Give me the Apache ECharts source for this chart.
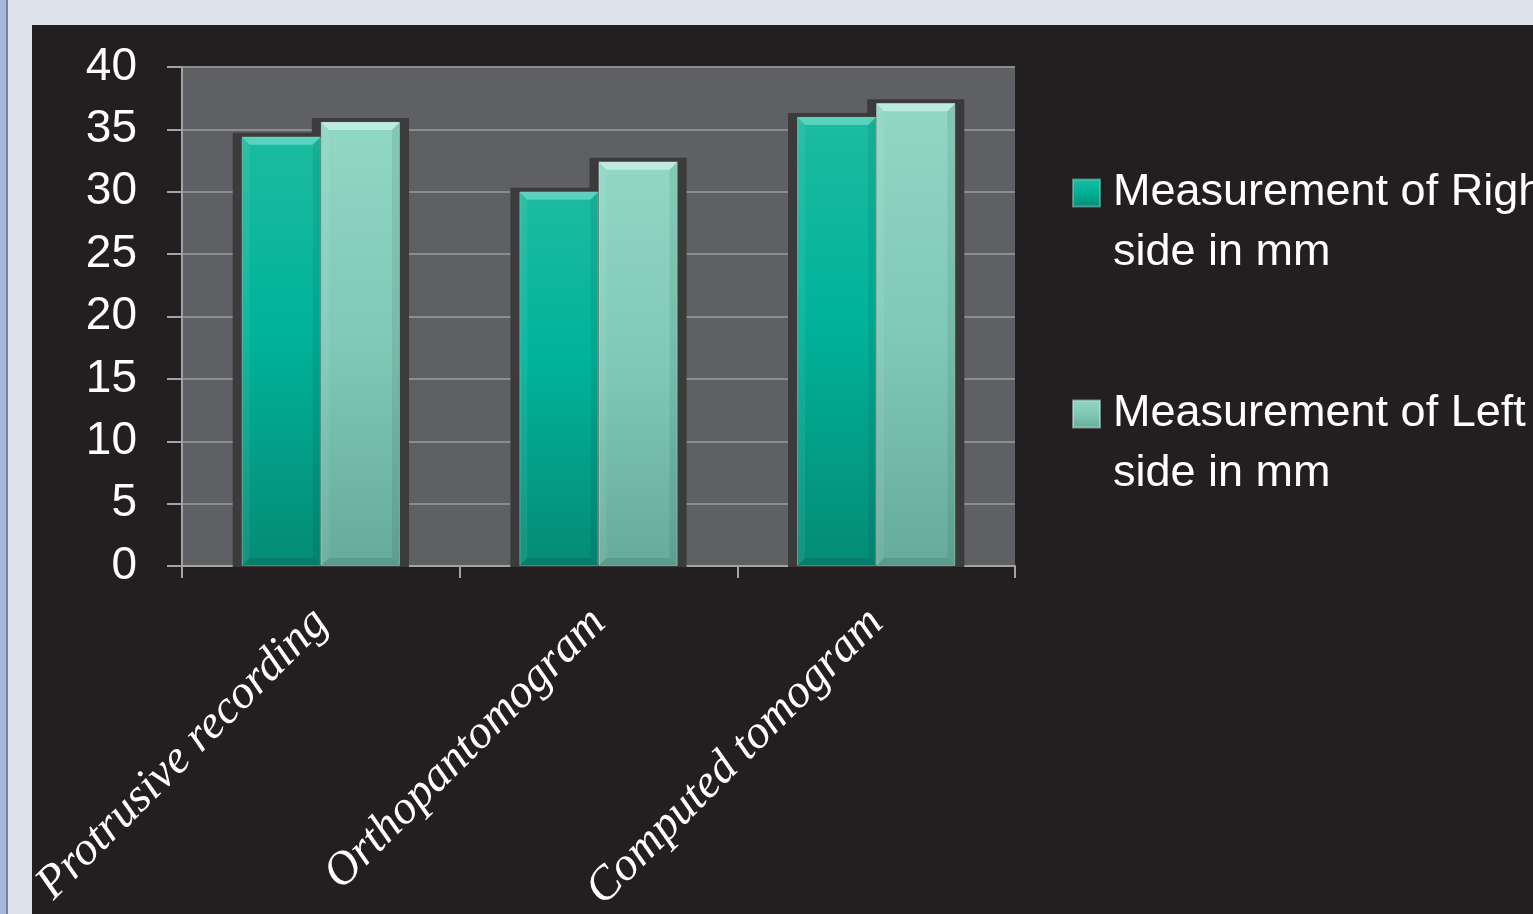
<!DOCTYPE html>
<html>
<head>
<meta charset="utf-8">
<script src="https://cdn.jsdelivr.net/npm/echarts@6/dist/echarts.min.js"></script>
<style>
html,body{margin:0;padding:0;background:#dde1ea;}
#c{width:1533px;height:914px;}
</style>
</head>
<body>
<div id="c"></div>
<script>
const categories = ['Protrusive recording', 'Orthopantomogram', 'Computed tomogram'];
const seriesNames = ['Measurement of Right side in mm', 'Measurement of Left side in mm'];
const rightValues = [34.4, 30.0, 36.0];
const leftValues = [35.6, 32.4, 37.1];
const yTicks = [0, 5, 10, 15, 20, 25, 30, 35, 40];

const BAR_FRAC = 0.285;

const rightColor = new echarts.graphic.LinearGradient(0, 0, 0, 1, [
  {offset: 0, color: '#1cbba0'}, {offset: 0.45, color: '#00b39a'}, {offset: 1, color: '#058b76'}
]);
const leftColor = new echarts.graphic.LinearGradient(0, 0, 0, 1, [
  {offset: 0, color: '#90d7c4'}, {offset: 0.5, color: '#80c9b6'}, {offset: 1, color: '#66ab9b'}
]);

function barRect(api, side) {
  const idx = api.value(0), v = api.value(1);
  const top = api.coord([idx, v]);
  const base = api.coord([idx, 0]);
  const bw = api.size([1, 0])[0] * BAR_FRAC;
  const x0 = side === 0 ? top[0] - bw : top[0];
  return {x: x0, y: top[1], w: bw, h: base[1] - top[1]};
}

function shadowRender(side) {
  return function (params, api) {
    const r = barRect(api, side);
    return {
      type: 'rect',
      shape: {x: r.x - 9, y: r.y - 4, width: r.w + 18, height: r.h + 5},
      style: {fill: '#3b3b3c'}
    };
  };
}

function bevelRender(side, light) {
  return function (params, api) {
    const r = barRect(api, side);
    const b = 8;
    return {
      type: 'group',
      children: [
        {type: 'polygon', shape: {points: [[r.x, r.y], [r.x + r.w, r.y], [r.x + r.w - b, r.y + b], [r.x + b, r.y + b]]},
         style: {fill: light}},
        {type: 'polygon', shape: {points: [[r.x, r.y], [r.x + b, r.y + b], [r.x + b, r.y + r.h - b], [r.x, r.y + r.h]]},
         style: {fill: 'rgba(255,255,255,0.07)'}},
        {type: 'polygon', shape: {points: [[r.x + r.w, r.y], [r.x + r.w - b, r.y + b], [r.x + r.w - b, r.y + r.h - b], [r.x + r.w, r.y + r.h]]},
         style: {fill: 'rgba(0,0,0,0.07)'}},
        {type: 'polygon', shape: {points: [[r.x, r.y + r.h], [r.x + b, r.y + r.h - b], [r.x + r.w - b, r.y + r.h - b], [r.x + r.w, r.y + r.h]]},
         style: {fill: 'rgba(0,0,0,0.10)'}}
      ]
    };
  };
}

const chart = echarts.init(document.getElementById('c'), null, {renderer: 'canvas'});
chart.setOption({
  backgroundColor: '#dde1ea',
  animation: false,
  graphic: [
    {type: 'rect', z: -100, shape: {x: 0, y: 0, width: 7, height: 914}, style: {fill: '#a7b7d9'}},
    {type: 'rect', z: -100, shape: {x: 6, y: 0, width: 2, height: 914}, style: {fill: '#74849f'}},
    {type: 'rect', z: -100, shape: {x: 32, y: 25, width: 1501, height: 889}, style: {fill: '#231f20'}}
  ],
  grid: {
    left: 182, top: 67, right: 518, bottom: 348,
    outerBoundsMode: 'none',
    containLabel: false,
    show: true, backgroundColor: '#5f6063', borderWidth: 0
  },
  legend: {
    data: seriesNames,
    orient: 'vertical',
    left: 1072,
    top: 103,
    padding: 0,
    itemWidth: 27,
    itemHeight: 27,
    itemGap: 41,
    icon: 'rect',
    formatter: function (name) {
      return '\n' + name.replace(' side', '\nside');
    },
    textStyle: {
      color: '#ffffff',
      fontFamily: 'Liberation Sans',
      fontSize: 45,
      lineHeight: 60,
      padding: [0, 0, 0, 8]
    }
  },
  xAxis: {
    type: 'category',
    data: categories,
    axisLine: {lineStyle: {color: '#a3a3a3', width: 2}},
    axisTick: {show: true, length: 12, lineStyle: {color: '#a3a3a3', width: 2}},
    axisLabel: {
      rotate: 45,
      interval: 0,
      margin: 50,
      color: '#ffffff',
      fontFamily: 'Liberation Serif',
      fontStyle: 'italic',
      fontSize: 47
    }
  },
  yAxis: {
    type: 'value',
    min: 0, max: 40, interval: 5,
    axisLine: {show: true, lineStyle: {color: '#a3a3a3', width: 2}},
    axisTick: {show: true, length: 15, lineStyle: {color: '#a3a3a3', width: 2}},
    splitLine: {show: true, lineStyle: {color: '#8c8c8e', width: 2}},
    axisLabel: {
      margin: 45,
      color: '#ffffff',
      fontFamily: 'Liberation Sans',
      fontSize: 46,
      formatter: function (v) { return yTicks.indexOf(v) >= 0 ? String(v) : ''; }
    }
  },
  series: [
    {
      type: 'custom', name: 'shadowR', z: 1, silent: true,
      data: rightValues.map((v, i) => [i, v]),
      encode: {x: 0, y: 1},
      renderItem: shadowRender(0)
    },
    {
      type: 'custom', name: 'shadowL', z: 1, silent: true,
      data: leftValues.map((v, i) => [i, v]),
      encode: {x: 0, y: 1},
      renderItem: shadowRender(1)
    },
    {
      type: 'bar', name: seriesNames[0], z: 2,
      data: rightValues,
      barWidth: (BAR_FRAC * 100) + '%',
      barGap: '0%',
      itemStyle: {color: rightColor, borderColor: 'rgba(120,220,200,0.5)', borderWidth: 1}
    },
    {
      type: 'bar', name: seriesNames[1], z: 2,
      data: leftValues,
      barWidth: (BAR_FRAC * 100) + '%',
      barGap: '0%',
      itemStyle: {color: leftColor, borderColor: 'rgba(200,240,230,0.5)', borderWidth: 1}
    },
    {
      type: 'custom', name: 'bevelR', z: 3, silent: true,
      data: rightValues.map((v, i) => [i, v]),
      encode: {x: 0, y: 1},
      renderItem: bevelRender(0, 'rgba(140,230,215,0.55)')
    },
    {
      type: 'custom', name: 'bevelL', z: 3, silent: true,
      data: leftValues.map((v, i) => [i, v]),
      encode: {x: 0, y: 1},
      renderItem: bevelRender(1, 'rgba(220,250,242,0.6)')
    }
  ]
});
</script>
</body>
</html>
